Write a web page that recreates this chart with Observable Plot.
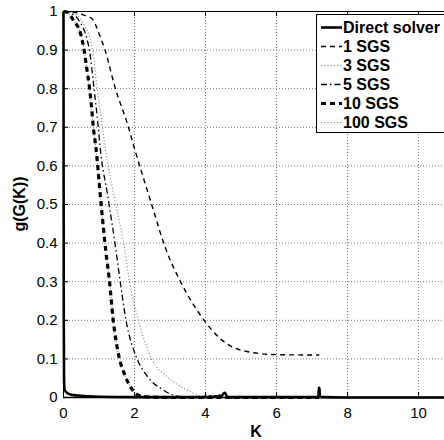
<!DOCTYPE html>
<html><head><meta charset="utf-8">
<script src="https://cdn.jsdelivr.net/npm/d3@7"></script>
<script src="https://cdn.jsdelivr.net/npm/@observablehq/plot@0.6"></script>
<style>
body{margin:0;background:#fff}
#chart{position:relative;width:444px;height:440px;overflow:hidden}
</style>
</head><body><div id="chart"></div>
<script>
// ---- data ----
const seriesNames = ["Direct solver","1 SGS","3 SGS","5 SGS","10 SGS","100 SGS"];

const kDirect = [0,0.003,0.008,0.015,0.03,0.1,0.2,0.4,0.7,1.0,2.0,3.0,3.95,3.99,4.03,4.1,4.15,4.2,4.3,4.35,4.4,4.45,4.5,4.55,4.6,4.65,5.0,6.0,7.15,7.18,7.19,7.21,7.22,7.3,8.0,10.73];
const gDirect = [1,0.6,0.2,0.05,0.02,0.012,0.008,0.005,0.003,0.002,0.001,0.001,0.001,0.003,0.001,0.002,0.003,0.001,0.004,0.002,0.005,0.003,0.01,0.012,0.003,0.001,0.001,0.001,0.001,0.002,0.025,0.025,0.002,0.001,0,0];

const k1 = [0,0.3,0.6,0.75,0.84,1.0,1.17,1.45,1.83,1.99,2.45,2.9,3.28,3.96,4.41,5.02,6.0,7.2];
const g1 = [1,0.998,0.99,0.985,0.977,0.943,0.9,0.804,0.70,0.648,0.51,0.38,0.303,0.2,0.153,0.122,0.111,0.11];

const k3 = [0,0.3,0.55,0.82,0.95,1.1,1.17,1.45,1.73,1.85,2.11,2.48,2.9,3.47,3.93,4.3,7.2];
const g3 = [1,0.995,0.97,0.9,0.8,0.7,0.65,0.51,0.38,0.305,0.2,0.1,0.055,0.02,0.003,0,0];

const k5 = [0,0.2,0.41,0.73,0.86,0.98,1.03,1.25,1.48,1.59,1.76,2.06,2.36,2.8,3.14,3.5,4.0,7.2];
const g5 = [1,0.995,0.98,0.9,0.8,0.7,0.65,0.52,0.38,0.305,0.2,0.103,0.055,0.02,0.005,0.001,0,0];

const k10 = [0,0.1,0.28,0.48,0.58,0.65,0.73,0.79,0.84,0.91,1.05,1.19,1.29,1.40,1.57,1.72,1.87,2.04,2.2,2.5,3.0,7.2];
const g10 = [1,0.998,0.977,0.943,0.9,0.856,0.804,0.753,0.70,0.65,0.51,0.38,0.305,0.2,0.103,0.06,0.03,0.01,0.003,0.001,0,0];

const k100 = [0,0.1,0.28,0.48,0.58,0.65,0.73,0.79,0.84,0.91,1.05,1.19,1.29,1.40,1.57,1.72,1.87,2.04,2.2,2.5,3.0,7.2];
const g100 = [1,0.998,0.977,0.943,0.9,0.856,0.804,0.753,0.70,0.65,0.51,0.38,0.305,0.2,0.103,0.06,0.03,0.01,0.003,0.001,0,0];

const xTicks = [0,2,4,6,8,10];
const yTicks = [0,0.1,0.2,0.3,0.4,0.5,0.6,0.7,0.8,0.9,1];
const xGrid = [2,4,6,8,10];
const yGrid = [0.1,0.2,0.3,0.4,0.5,0.6,0.7,0.8,0.9];
const xLabel = "K";
const yLabel = "g(G(K))";

// ---- styles ----
const styles = {
  "Direct solver": {stroke:"#000", strokeWidth:2.6, dash:null},
  "1 SGS": {stroke:"#000", strokeWidth:1.4, dash:"5,4"},
  "3 SGS": {stroke:"#8a8a8a", strokeWidth:1.1, dash:"1.2,2"},
  "5 SGS": {stroke:"#000", strokeWidth:1.3, dash:"6,3,1.5,3"},
  "10 SGS": {stroke:"#000", strokeWidth:3.2, dash:"5,4"},
  "100 SGS": {stroke:"#8a8a8a", strokeWidth:1.1, dash:"1.2,2"}
};
const toRows = (ks, gs) => ks.map((k,i)=>({k, g: gs[i]}));
const series = {
  "Direct solver": toRows(kDirect,gDirect),
  "1 SGS": toRows(k1,g1),
  "3 SGS": toRows(k3,g3),
  "5 SGS": toRows(k5,g5),
  "10 SGS": toRows(k10,g10),
  "100 SGS": toRows(k100,g100)
};
const drawOrder = ["100 SGS","3 SGS","1 SGS","5 SGS","10 SGS","Direct solver"];

const FONT = "'Liberation Sans', Arial, Helvetica, sans-serif";
const xMax = 10.73;
const gridStyle = {stroke:"#777", strokeWidth:1, strokeDasharray:"1,2"};

const marks = [
  Plot.ruleX(xGrid, gridStyle),
  Plot.ruleY(yGrid, gridStyle),
  ...drawOrder.map(n => Plot.line(series[n], {x:"k", y:"g", stroke: styles[n].stroke,
      strokeWidth: styles[n].strokeWidth, strokeDasharray: styles[n].dash,
      strokeLinecap:"butt", strokeLinejoin:"miter", curve:"monotone-x"})),
  // frame
  Plot.ruleX([0], {stroke:"#000", strokeWidth:1}),
  Plot.ruleY([0], {stroke:"#000", strokeWidth:1.5}),
  Plot.ruleY([1], {stroke:"#000", strokeWidth:1}),
  // inward tick marks
  Plot.ruleX(xTicks, {y1:0, y2:0.013, stroke:"#000"}),
  Plot.ruleX(xTicks, {y1:0.987, y2:1, stroke:"#000"}),
  Plot.ruleY(yTicks, {x1:0, x2:0.14, stroke:"#000"}),
  Plot.axisX(xTicks, {tickSize:0, tickPadding:10, fontSize:15, label:null}),
  Plot.axisY(yTicks, {tickSize:0, tickPadding:6, fontSize:15, label:null, tickFormat: d => String(d)})
];

const chart = Plot.plot({
  width:444, height:440,
  marginLeft:63, marginRight:0, marginTop:11, marginBottom:43,
  x:{domain:[0,xMax]},
  y:{domain:[0,1]},
  style:{fontFamily:FONT, fontSize:"15px", color:"#000", background:"#fff", overflow:"visible"},
  marks
});
document.getElementById("chart").appendChild(chart);

// axis titles and legend
const svg = d3.select(chart);
svg.append("text").attr("x",256).attr("y",437).attr("text-anchor","middle")
  .attr("font-family",FONT).attr("font-weight","bold").attr("font-size",16).attr("fill","#000").text(xLabel);
svg.append("text").attr("transform","translate(25,204) rotate(-90)").attr("text-anchor","middle")
  .attr("font-family",FONT).attr("font-weight","bold").attr("font-size",16).attr("fill","#000").text(yLabel);

const lg = svg.append("g");
lg.append("rect").attr("x",316.5).attr("y",14.5).attr("width",140).attr("height",118)
  .attr("fill","#fff").attr("stroke","#000").attr("stroke-width",1);
seriesNames.forEach((n,i)=>{
  const y = 27.5 + 19*i;
  lg.append("line").attr("x1",321).attr("x2",342).attr("y1",y).attr("y2",y)
    .attr("stroke",styles[n].stroke).attr("stroke-width",styles[n].strokeWidth)
    .attr("stroke-dasharray",styles[n].dash);
  lg.append("text").attr("x",343).attr("y",y).attr("dy","0.36em").attr("text-anchor","start")
    .attr("font-family",FONT).attr("font-weight","bold").attr("font-size",16).attr("fill","#000").text(n);
});
</script>
</body></html>
